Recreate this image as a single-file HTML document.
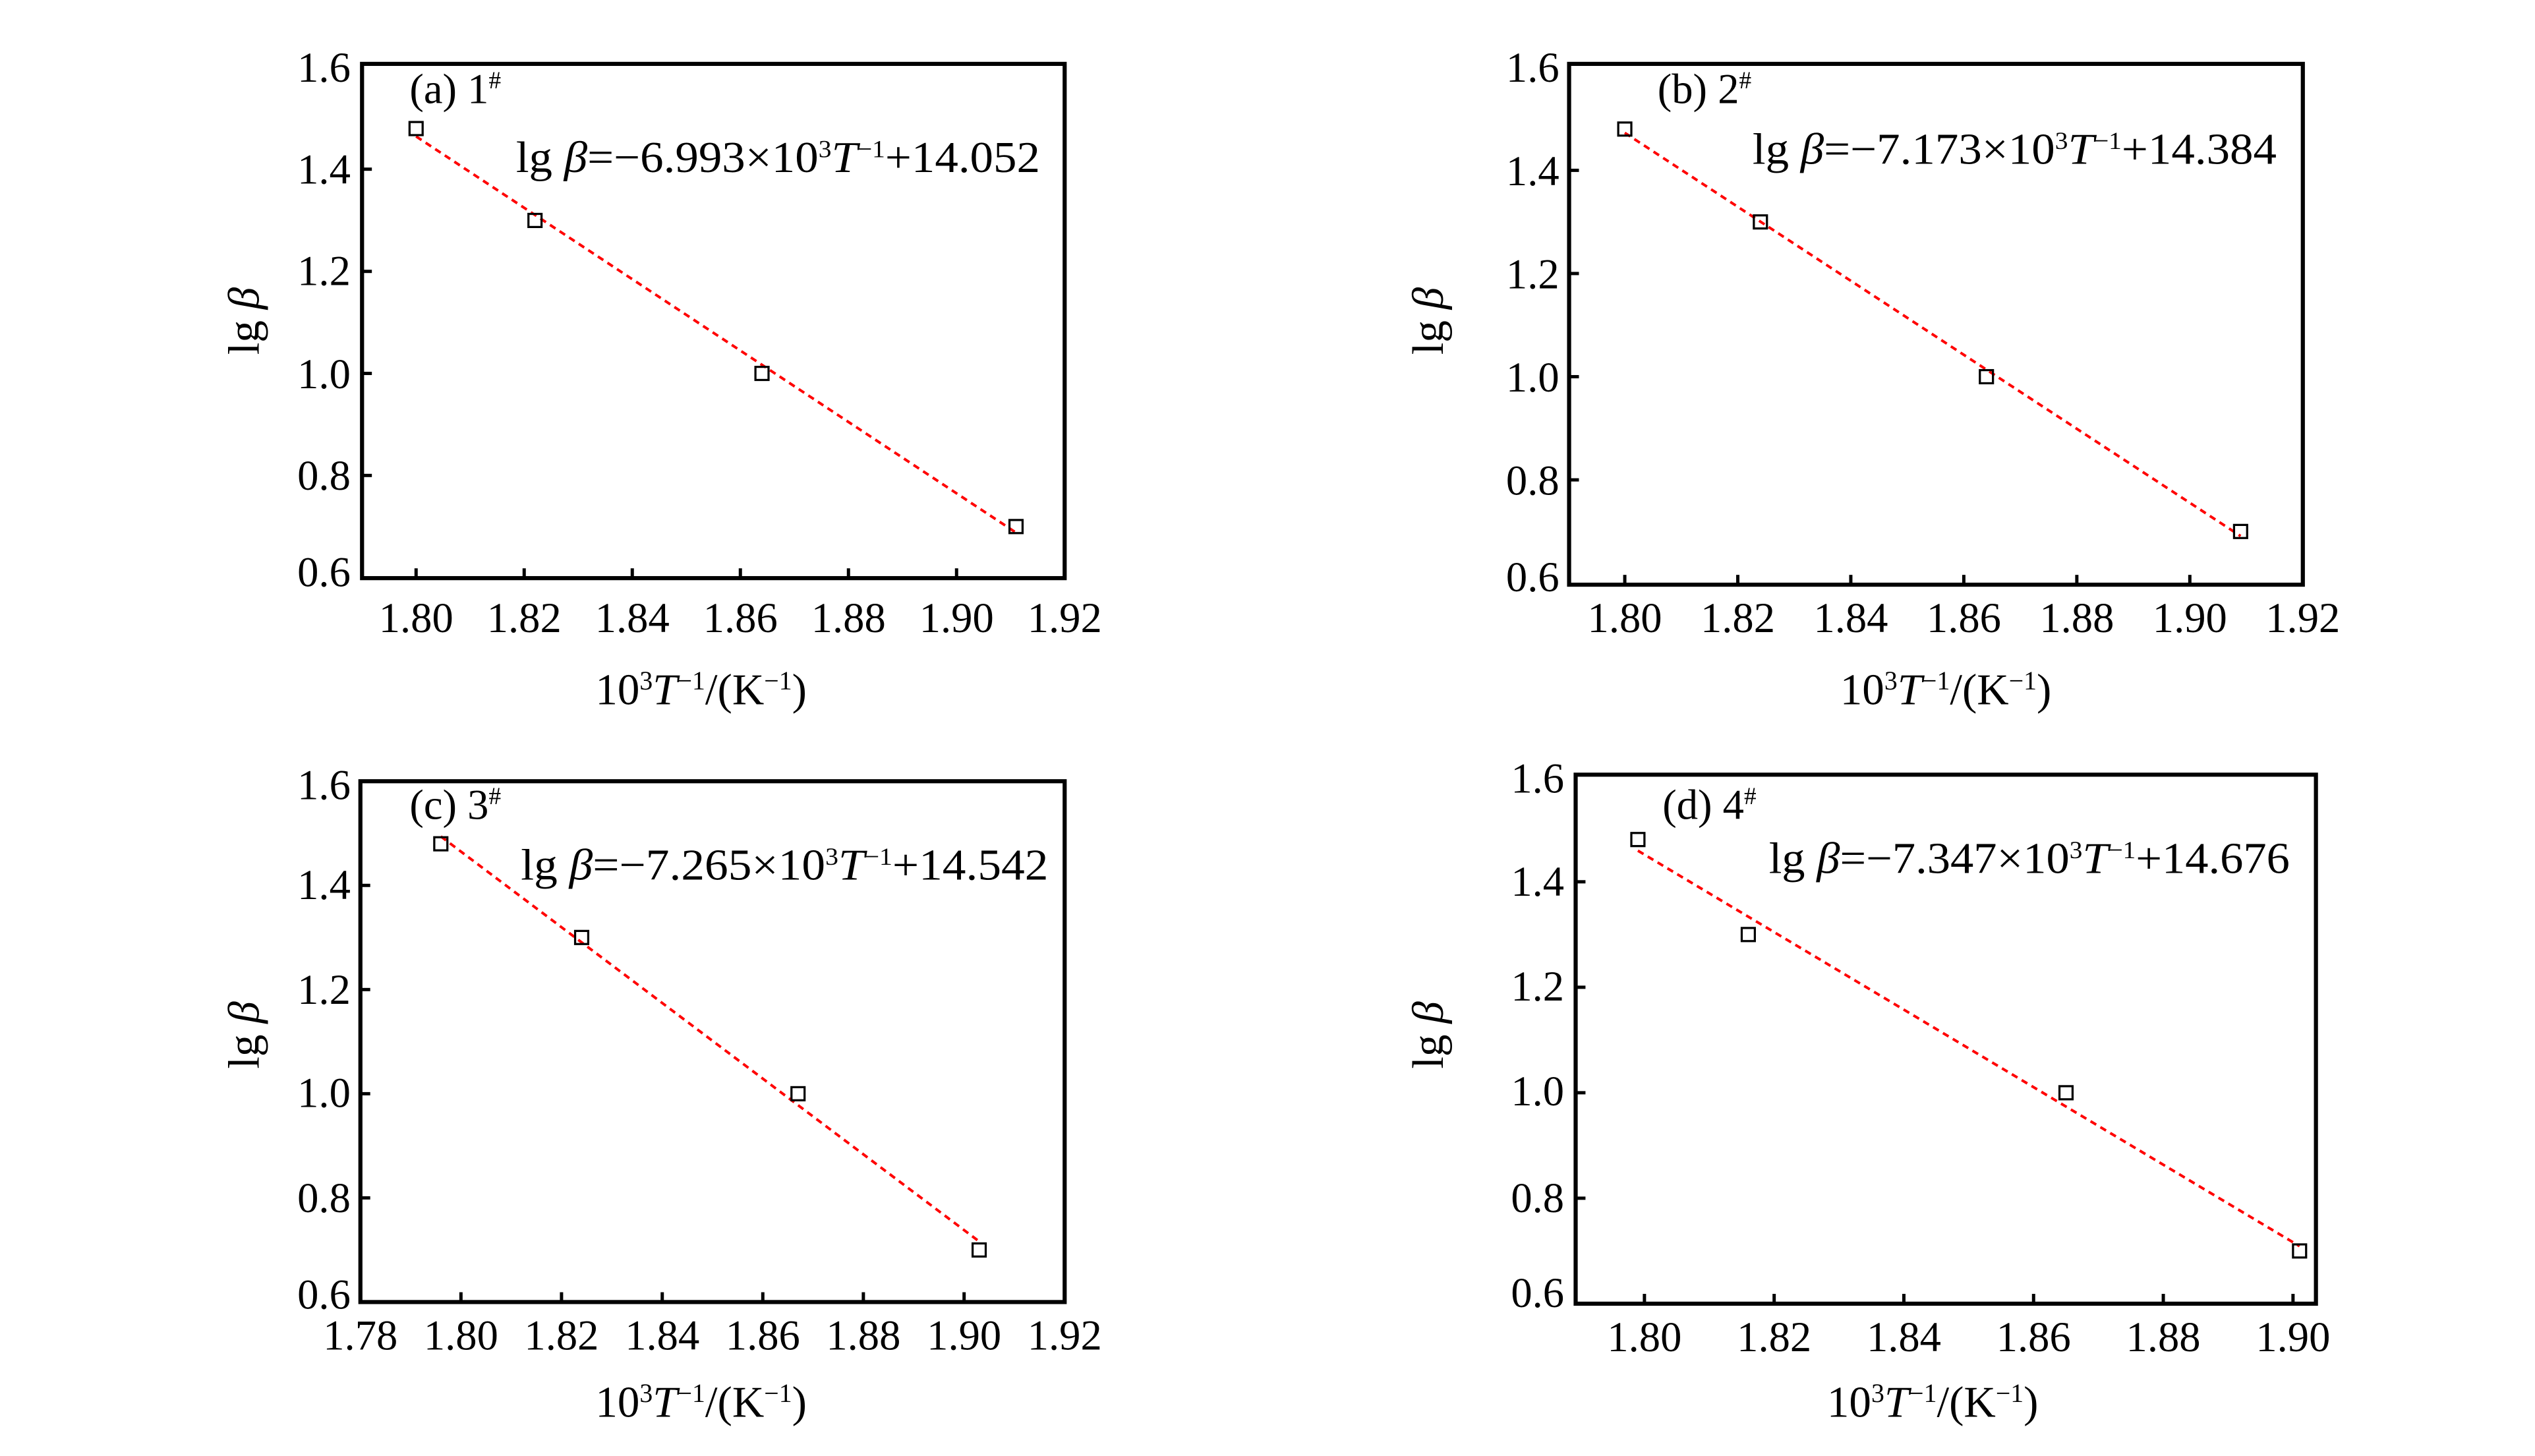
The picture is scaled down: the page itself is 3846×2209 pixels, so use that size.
<!DOCTYPE html>
<html><head><meta charset="utf-8"><style>
html,body{margin:0;padding:0;background:#fff}
svg{display:block}
text{font-family:"Liberation Serif",serif;fill:#000}
.t{font-size:26px}
.e{font-size:27px}
.ax{font-size:27px}
.f{fill:none;stroke:#000;stroke-width:2.5}
.k{stroke:#000;stroke-width:2}
.s{fill:none;stroke:#000;stroke-width:1.3}
.r{stroke:#f00;stroke-width:1.6;stroke-dasharray:4 3;fill:none}
</style></head><body>
<svg width="3846" height="2209" viewBox="0 0 1547.7 889" xmlns="http://www.w3.org/2000/svg">
<!-- Panel a -->
<rect class="f" x="221" y="39" width="429" height="314"/>
<g class="k">
<line x1="254" y1="353" x2="254" y2="347"/><line x1="320" y1="353" x2="320" y2="347"/><line x1="386" y1="353" x2="386" y2="347"/><line x1="452" y1="353" x2="452" y2="347"/><line x1="518" y1="353" x2="518" y2="347"/><line x1="584" y1="353" x2="584" y2="347"/>
<line x1="221" y1="103.3" x2="227" y2="103.3"/><line x1="221" y1="165.7" x2="227" y2="165.7"/><line x1="221" y1="228" x2="227" y2="228"/><line x1="221" y1="290.3" x2="227" y2="290.3"/>
</g>
<g class="t" text-anchor="end">
<text x="214" y="50">1.6</text><text x="214" y="112">1.4</text><text x="214" y="174">1.2</text><text x="214" y="237">1.0</text><text x="214" y="299">0.8</text><text x="214" y="358">0.6</text>
</g>
<g class="t" text-anchor="middle">
<text x="254" y="386">1.80</text><text x="320" y="386">1.82</text><text x="386" y="386">1.84</text><text x="452" y="386">1.86</text><text x="518" y="386">1.88</text><text x="584" y="386">1.90</text><text x="650" y="386">1.92</text>
</g>
<line class="r" x1="254" y1="83.3" x2="620.3" y2="325.2"/>
<g class="s"><rect x="250" y="74.5" width="8" height="8"/><rect x="322.6" y="130.6" width="8" height="8"/><rect x="461.2" y="224" width="8" height="8"/><rect x="616.3" y="317.5" width="8" height="8"/></g>
<text class="t" x="250" y="63">(a) 1<tspan dy="-9" font-size="15">#</tspan></text>
<text class="e" x="315" y="105" textLength="320" lengthAdjust="spacingAndGlyphs">lg <tspan font-style="italic">β</tspan>=−6.993×10<tspan dy="-9" font-size="15">3</tspan><tspan dy="9" font-style="italic">T</tspan><tspan dy="-9" font-size="15">−1</tspan><tspan dy="9">+14.052</tspan></text>
<text class="ax" transform="translate(158,196) rotate(-90)" text-anchor="middle">lg <tspan font-style="italic">β</tspan></text>
<text class="ax" x="428" y="430" text-anchor="middle">10<tspan dy="-9" font-size="16">3</tspan><tspan dy="9" font-style="italic">T</tspan><tspan dy="-9" font-size="16">−1</tspan><tspan dy="9">/(K</tspan><tspan dy="-9" font-size="16">−1</tspan><tspan dy="9">)</tspan></text>

<!-- Panel b -->
<rect class="f" x="958" y="39" width="448" height="318"/>
<g class="k">
<line x1="992" y1="357" x2="992" y2="351"/><line x1="1061" y1="357" x2="1061" y2="351"/><line x1="1130" y1="357" x2="1130" y2="351"/><line x1="1199" y1="357" x2="1199" y2="351"/><line x1="1268" y1="357" x2="1268" y2="351"/><line x1="1337" y1="357" x2="1337" y2="351"/>
<line x1="958" y1="104" x2="964" y2="104"/><line x1="958" y1="167" x2="964" y2="167"/><line x1="958" y1="230" x2="964" y2="230"/><line x1="958" y1="293" x2="964" y2="293"/>
</g>
<g class="t" text-anchor="end">
<text x="952" y="50">1.6</text><text x="952" y="113">1.4</text><text x="952" y="176">1.2</text><text x="952" y="239">1.0</text><text x="952" y="302">0.8</text><text x="952" y="361">0.6</text>
</g>
<g class="t" text-anchor="middle">
<text x="992" y="386">1.80</text><text x="1061" y="386">1.82</text><text x="1130" y="386">1.84</text><text x="1199" y="386">1.86</text><text x="1268" y="386">1.88</text><text x="1337" y="386">1.90</text><text x="1406" y="386">1.92</text>
</g>
<line class="r" x1="992" y1="81.1" x2="1368" y2="327.3"/>
<g class="s"><rect x="988" y="74.8" width="8" height="8"/><rect x="1070.8" y="131.5" width="8" height="8"/><rect x="1208.8" y="226" width="8" height="8"/><rect x="1364" y="320.5" width="8" height="8"/></g>
<text class="t" x="1012" y="63">(b) 2<tspan dy="-9" font-size="15">#</tspan></text>
<text class="e" x="1070" y="100" textLength="320" lengthAdjust="spacingAndGlyphs">lg <tspan font-style="italic">β</tspan>=−7.173×10<tspan dy="-9" font-size="15">3</tspan><tspan dy="9" font-style="italic">T</tspan><tspan dy="-9" font-size="15">−1</tspan><tspan dy="9">+14.384</tspan></text>
<text class="ax" transform="translate(881,196) rotate(-90)" text-anchor="middle">lg <tspan font-style="italic">β</tspan></text>
<text class="ax" x="1188" y="430" text-anchor="middle">10<tspan dy="-9" font-size="16">3</tspan><tspan dy="9" font-style="italic">T</tspan><tspan dy="-9" font-size="16">−1</tspan><tspan dy="9">/(K</tspan><tspan dy="-9" font-size="16">−1</tspan><tspan dy="9">)</tspan></text>

<!-- Panel c -->
<rect class="f" x="220" y="477" width="430" height="318"/>
<g class="k">
<line x1="281.4" y1="795" x2="281.4" y2="789"/><line x1="342.8" y1="795" x2="342.8" y2="789"/><line x1="404.3" y1="795" x2="404.3" y2="789"/><line x1="465.7" y1="795" x2="465.7" y2="789"/><line x1="527.1" y1="795" x2="527.1" y2="789"/><line x1="588.6" y1="795" x2="588.6" y2="789"/>
<line x1="220" y1="540.6" x2="226" y2="540.6"/><line x1="220" y1="604.2" x2="226" y2="604.2"/><line x1="220" y1="667.8" x2="226" y2="667.8"/><line x1="220" y1="731.4" x2="226" y2="731.4"/>
</g>
<g class="t" text-anchor="end">
<text x="214" y="488">1.6</text><text x="214" y="549">1.4</text><text x="214" y="613">1.2</text><text x="214" y="676">1.0</text><text x="214" y="740">0.8</text><text x="214" y="799">0.6</text>
</g>
<g class="t" text-anchor="middle">
<text x="220" y="824">1.78</text><text x="281.4" y="824">1.80</text><text x="342.8" y="824">1.82</text><text x="404.3" y="824">1.84</text><text x="465.7" y="824">1.86</text><text x="527.1" y="824">1.88</text><text x="588.6" y="824">1.90</text><text x="650" y="824">1.92</text>
</g>
<line class="r" x1="269.1" y1="510.7" x2="597.8" y2="758" stroke-width="2"/>
<g class="s"><rect x="265.1" y="511.2" width="8" height="8"/><rect x="351.1" y="568.4" width="8" height="8"/><rect x="483.2" y="663.8" width="8" height="8"/><rect x="593.8" y="759.2" width="8" height="8"/></g>
<text class="t" x="250" y="500">(c) 3<tspan dy="-9" font-size="15">#</tspan></text>
<text class="e" x="318" y="537" textLength="322" lengthAdjust="spacingAndGlyphs">lg <tspan font-style="italic">β</tspan>=−7.265×10<tspan dy="-9" font-size="15">3</tspan><tspan dy="9" font-style="italic">T</tspan><tspan dy="-9" font-size="15">−1</tspan><tspan dy="9">+14.542</tspan></text>
<text class="ax" transform="translate(158,632) rotate(-90)" text-anchor="middle">lg <tspan font-style="italic">β</tspan></text>
<text class="ax" x="428" y="865" text-anchor="middle">10<tspan dy="-9" font-size="16">3</tspan><tspan dy="9" font-style="italic">T</tspan><tspan dy="-9" font-size="16">−1</tspan><tspan dy="9">/(K</tspan><tspan dy="-9" font-size="16">−1</tspan><tspan dy="9">)</tspan></text>

<!-- Panel d -->
<rect class="f" x="962" y="473" width="452" height="323"/>
<g class="k">
<line x1="1004" y1="796" x2="1004" y2="790"/><line x1="1083.2" y1="796" x2="1083.2" y2="790"/><line x1="1162.4" y1="796" x2="1162.4" y2="790"/><line x1="1241.6" y1="796" x2="1241.6" y2="790"/><line x1="1320.8" y1="796" x2="1320.8" y2="790"/><line x1="1400" y1="796" x2="1400" y2="790"/>
<line x1="962" y1="538.4" x2="968" y2="538.4"/><line x1="962" y1="602.8" x2="968" y2="602.8"/><line x1="962" y1="667.2" x2="968" y2="667.2"/><line x1="962" y1="731.6" x2="968" y2="731.6"/>
</g>
<g class="t" text-anchor="end">
<text x="955" y="484">1.6</text><text x="955" y="547">1.4</text><text x="955" y="611">1.2</text><text x="955" y="675">1.0</text><text x="955" y="740">0.8</text><text x="955" y="798">0.6</text>
</g>
<g class="t" text-anchor="middle">
<text x="1004" y="825">1.80</text><text x="1083.2" y="825">1.82</text><text x="1162.4" y="825">1.84</text><text x="1241.6" y="825">1.86</text><text x="1320.8" y="825">1.88</text><text x="1400" y="825">1.90</text>
</g>
<line class="r" x1="1000" y1="519.4" x2="1404" y2="760.9"/>
<g class="s"><rect x="996" y="508.6" width="8" height="8"/><rect x="1063.4" y="566.6" width="8" height="8"/><rect x="1257.4" y="663.2" width="8" height="8"/><rect x="1400" y="759.8" width="8" height="8"/></g>
<text class="t" x="1015" y="500">(d) 4<tspan dy="-9" font-size="15">#</tspan></text>
<text class="e" x="1080" y="533" textLength="318" lengthAdjust="spacingAndGlyphs">lg <tspan font-style="italic">β</tspan>=−7.347×10<tspan dy="-9" font-size="15">3</tspan><tspan dy="9" font-style="italic">T</tspan><tspan dy="-9" font-size="15">−1</tspan><tspan dy="9">+14.676</tspan></text>
<text class="ax" transform="translate(881,632) rotate(-90)" text-anchor="middle">lg <tspan font-style="italic">β</tspan></text>
<text class="ax" x="1180" y="865" text-anchor="middle">10<tspan dy="-9" font-size="16">3</tspan><tspan dy="9" font-style="italic">T</tspan><tspan dy="-9" font-size="16">−1</tspan><tspan dy="9">/(K</tspan><tspan dy="-9" font-size="16">−1</tspan><tspan dy="9">)</tspan></text>
</svg>
</body></html>
